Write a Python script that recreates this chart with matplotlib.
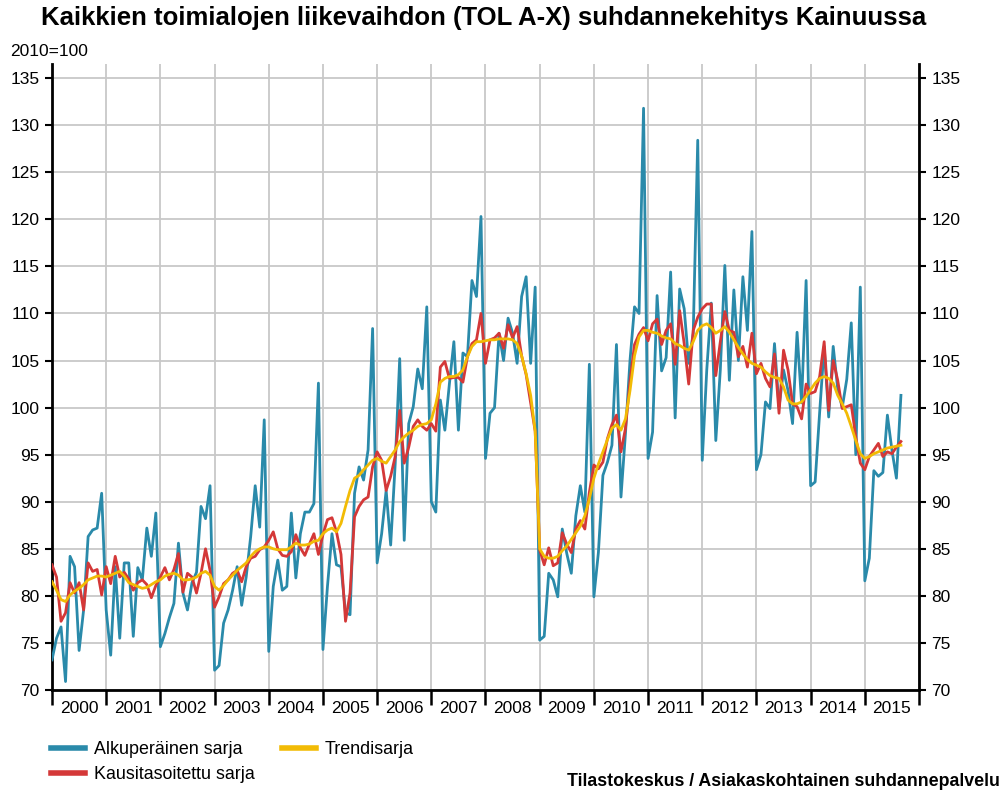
import matplotlib
matplotlib.use("Agg")
import matplotlib.pyplot as plt
from matplotlib.lines import Line2D
import numpy as np

plt.rcParams['font.family'] = ['Liberation Sans', 'DejaVu Sans']

years = [str(y) for y in range(2000, 2016)]

# Alkuperäinen sarja (monthly, Jan 2000 - Sep 2015)
original = [
    73.2, 75.5, 76.7, 70.9, 84.2, 83.1, 74.2, 78.5, 86.3, 87.0, 87.2, 90.9,
    78.5, 73.7, 83.1, 75.5, 83.5, 83.5, 75.7, 83.0, 81.7, 87.2, 84.2, 88.8,
    74.6, 76.0, 77.7, 79.2, 85.6, 80.3, 78.5, 81.4, 82.5, 89.5, 88.2, 91.7,
    72.1, 72.6, 77.1, 78.5, 80.6, 83.1, 79.0, 82.0, 86.3, 91.7, 87.3, 98.7,
    74.1, 81.0, 83.8, 80.6, 81.0, 88.8, 81.9, 86.6, 88.9, 88.9, 89.8, 102.6,
    74.3, 81.0, 86.6, 83.3, 83.1, 78.2, 78.0, 90.9, 93.7, 92.3, 95.5, 108.4,
    83.5, 86.6, 91.2, 85.4, 94.0, 105.2, 85.9, 98.3, 100.1, 104.1, 102.0, 110.7,
    90.0, 88.9, 100.8, 97.6, 102.5, 107.0, 97.6, 105.8, 105.4, 113.5, 111.8, 120.3,
    94.6, 99.4, 100.0, 107.9, 105.0, 109.5, 107.9, 104.7, 111.8, 113.9, 104.7, 112.8,
    75.3, 75.7, 82.4, 81.7, 79.9, 87.1, 84.5, 82.4, 88.5, 91.7, 88.9, 104.6,
    79.9, 84.6, 92.8, 94.2, 96.0, 106.7, 90.5, 97.3, 105.0, 110.7, 110.0, 131.8,
    94.6, 97.4, 111.9, 103.9, 105.3, 114.4, 98.9, 112.6, 110.5, 104.7, 107.9, 128.4,
    94.4, 104.0, 111.1, 96.5, 104.0, 115.1, 102.9, 112.5, 105.0, 113.9, 108.2, 118.7,
    93.4, 95.0, 100.6, 99.9, 106.8, 100.0, 104.0, 101.8, 98.3, 108.0, 100.5, 113.5,
    91.7, 92.1, 99.5, 106.5, 99.0, 106.5, 102.0, 100.0, 103.0, 109.0, 95.0, 112.8,
    81.6, 84.0, 93.3, 92.7, 93.1, 99.2, 95.5, 92.5, 101.3,
]

# Kausitasoitettu sarja
seasonal = [
    83.3, 82.0, 77.3, 78.2, 81.4, 80.3, 81.4, 78.5, 83.5, 82.6, 82.8, 80.1,
    83.1, 81.3, 84.2, 82.0, 82.5, 81.8, 80.6, 81.4, 81.7, 81.2, 79.8, 81.1,
    82.0, 83.0, 81.7, 82.8, 84.5, 80.4, 82.4, 82.0, 80.3, 82.4, 85.0, 82.7,
    78.8, 79.9, 81.3, 81.7, 82.4, 82.7, 81.5, 83.1, 84.0, 84.2, 84.9, 85.2,
    85.9, 86.8, 85.0, 84.3, 84.2, 84.7, 86.5, 85.1, 84.3, 85.5, 86.6, 84.4,
    86.5, 88.1, 88.3, 86.8, 84.4, 77.3, 80.3, 88.4, 89.5, 90.2, 90.5, 93.7,
    95.3, 94.4, 91.2, 92.7, 94.8, 99.7, 94.1, 95.8, 98.0, 98.7, 98.0, 97.6,
    98.3, 97.5, 104.3, 104.9, 103.1, 103.2, 103.2, 102.7, 105.4, 106.8, 107.2, 110.0,
    104.7, 107.2, 107.4, 107.9, 106.3, 108.8, 107.4, 108.6, 105.5, 103.5, 100.5, 97.5,
    84.9, 83.3, 85.1, 83.2, 83.5, 86.7, 85.5, 84.6, 87.1, 88.0, 87.1, 91.0,
    93.9, 93.5, 94.2, 96.7, 98.2, 99.2, 95.3, 97.8, 102.8, 106.7, 107.8, 108.5,
    107.1, 108.9, 109.4, 106.7, 108.2, 108.9, 104.6, 110.3, 106.8, 102.5, 108.2, 109.6,
    110.5, 111.0, 111.0, 103.4, 107.0, 110.2, 108.2, 108.0, 105.4, 106.5, 104.3, 107.9,
    103.6, 104.7, 103.1, 102.2, 105.7, 99.4, 106.1, 104.0, 100.4, 100.1, 98.8, 102.5,
    101.5, 101.7, 103.3, 107.0, 99.7, 105.0, 102.9, 99.9, 100.1, 100.3, 96.9, 94.1,
    93.4, 94.8, 95.5, 96.2, 94.8, 95.3, 95.1, 95.8, 96.4,
]

# Trendisarja
trend = [
    81.5, 80.6, 79.6, 79.4, 80.1, 80.5, 80.8, 81.2, 81.7, 81.9, 82.1, 82.1,
    82.0, 82.2, 82.4, 82.6, 82.1, 81.4, 81.2, 81.0, 80.8, 80.9, 81.2, 81.5,
    81.7, 82.1, 82.3, 82.4, 82.2, 81.7, 81.7, 81.8, 82.0, 82.4, 82.6, 82.2,
    81.0, 80.6, 81.1, 81.7, 82.2, 82.7, 83.1, 83.5, 84.2, 84.7, 85.0, 85.2,
    85.2, 85.0, 84.9, 84.9, 84.9, 85.2, 85.6, 85.4, 85.4, 85.5, 85.8, 85.9,
    86.6, 87.0, 87.2, 86.8, 87.7, 89.5, 91.2, 92.5, 92.8, 93.4, 93.9, 94.4,
    94.6, 94.3, 94.1, 94.8, 95.5, 96.4, 96.9, 97.3, 97.6, 98.0, 98.2, 98.3,
    98.7, 100.4, 102.7, 103.1, 103.3, 103.3, 103.5, 104.0, 105.4, 106.5, 107.0, 107.0,
    107.1, 107.2, 107.2, 107.3, 107.3, 107.3, 107.2, 106.8, 105.5, 103.6, 101.3, 97.5,
    85.0, 84.2, 84.0, 84.0, 84.2, 84.8, 85.3, 86.0, 86.7, 87.4, 88.5, 90.3,
    92.5, 94.0, 95.3, 96.6, 97.8, 98.2, 97.6, 98.8, 101.8, 105.5, 107.5, 108.2,
    108.2, 108.0, 107.9, 107.6, 107.4, 107.3, 106.8, 106.6, 106.3, 106.1, 107.0, 108.2,
    108.7, 108.9, 108.5, 107.9, 108.2, 108.6, 108.0, 107.2, 106.4, 105.7, 105.1, 104.7,
    104.5, 104.3, 103.8, 103.4, 103.2, 103.1, 102.2, 100.8, 100.4, 100.4, 100.6, 101.2,
    101.9, 102.6, 103.1, 103.3, 103.1, 102.6, 101.3, 100.4, 99.4, 98.0, 96.5, 95.1,
    94.6, 94.8, 95.1, 95.3, 95.5, 95.7, 95.8, 95.9, 96.0,
]

labels = ["Alkuperäinen sarja", "Kausitasoitettu sarja", "Trendisarja"]
colors = ["#2a8aaa", "#d43838", "#f2bb05"]

W, H = 1004, 791
fig = plt.figure(figsize=(W / 100, H / 100), dpi=100)
ax = fig.add_axes([52 / W, 1 - 690 / H, (919 - 52) / W, (690 - 64) / H])

x = np.arange(len(original))
ax.plot(x, original, color=colors[0], lw=2.0, zorder=3, solid_joinstyle='round')
ax.plot(x, seasonal, color=colors[1], lw=2.0, zorder=4, solid_joinstyle='round')
ax.plot(x, trend, color=colors[2], lw=2.0, zorder=5, solid_joinstyle='round')

nmonths = 12 * len(years)
ax.set_xlim(0, nmonths)
ax.set_ylim(70, 136.5)

yt = np.arange(70, 136, 5)
ax.set_yticks(yt)
ax.set_yticklabels([str(v) for v in yt])
ax.set_xticks(np.arange(0, nmonths + 1, 12))
ax.set_xticklabels([])
ax.set_xticks(np.arange(6, nmonths, 12), minor=True)
ax.set_xticklabels(years, minor=True)

ax.grid(True, which='major', color='#c8c8c8', lw=1.3, zorder=0)
ax.set_axisbelow(True)

for s in ['left', 'right', 'bottom']:
    ax.spines[s].set_linewidth(2.0)
    ax.spines[s].set_color('black')
ax.spines['top'].set_visible(False)

ax.tick_params(axis='y', which='major', direction='out', length=5, width=1.5,
               labelsize=12.5, left=True, right=True, labelleft=True,
               labelright=True, pad=4)
ax.tick_params(axis='x', which='major', direction='out', length=11, width=1.8)
ax.tick_params(axis='x', which='minor', length=0, labelsize=12.5, pad=8)

fig.text(484 / W, 1 - 18 / H,
         "Kaikkien toimialojen liikevaihdon (TOL A-X) suhdannekehitys Kainuussa",
         ha='center', va='center', fontsize=18.5, fontweight='bold')
fig.text(10 / W, 1 - 52 / H, "2010=100", ha='left', va='center', fontsize=12.5)
fig.text(1000 / W, 1 - 781 / H, "Tilastokeskus / Asiakaskohtainen suhdannepalvelu",
         ha='right', va='center', fontsize=12.8, fontweight='bold')

handles = [Line2D([0], [0], color=c, lw=4) for c in colors]
fig.legend(handles, labels, loc='upper left', bbox_to_anchor=(51 / W, 1 - 741 / H),
           ncol=2, frameon=False, fontsize=12.9, handlelength=1.9,
           handletextpad=0.5, columnspacing=1.5, labelspacing=0.45,
           borderaxespad=0, borderpad=0)

fig.savefig("out.png", dpi=100)
